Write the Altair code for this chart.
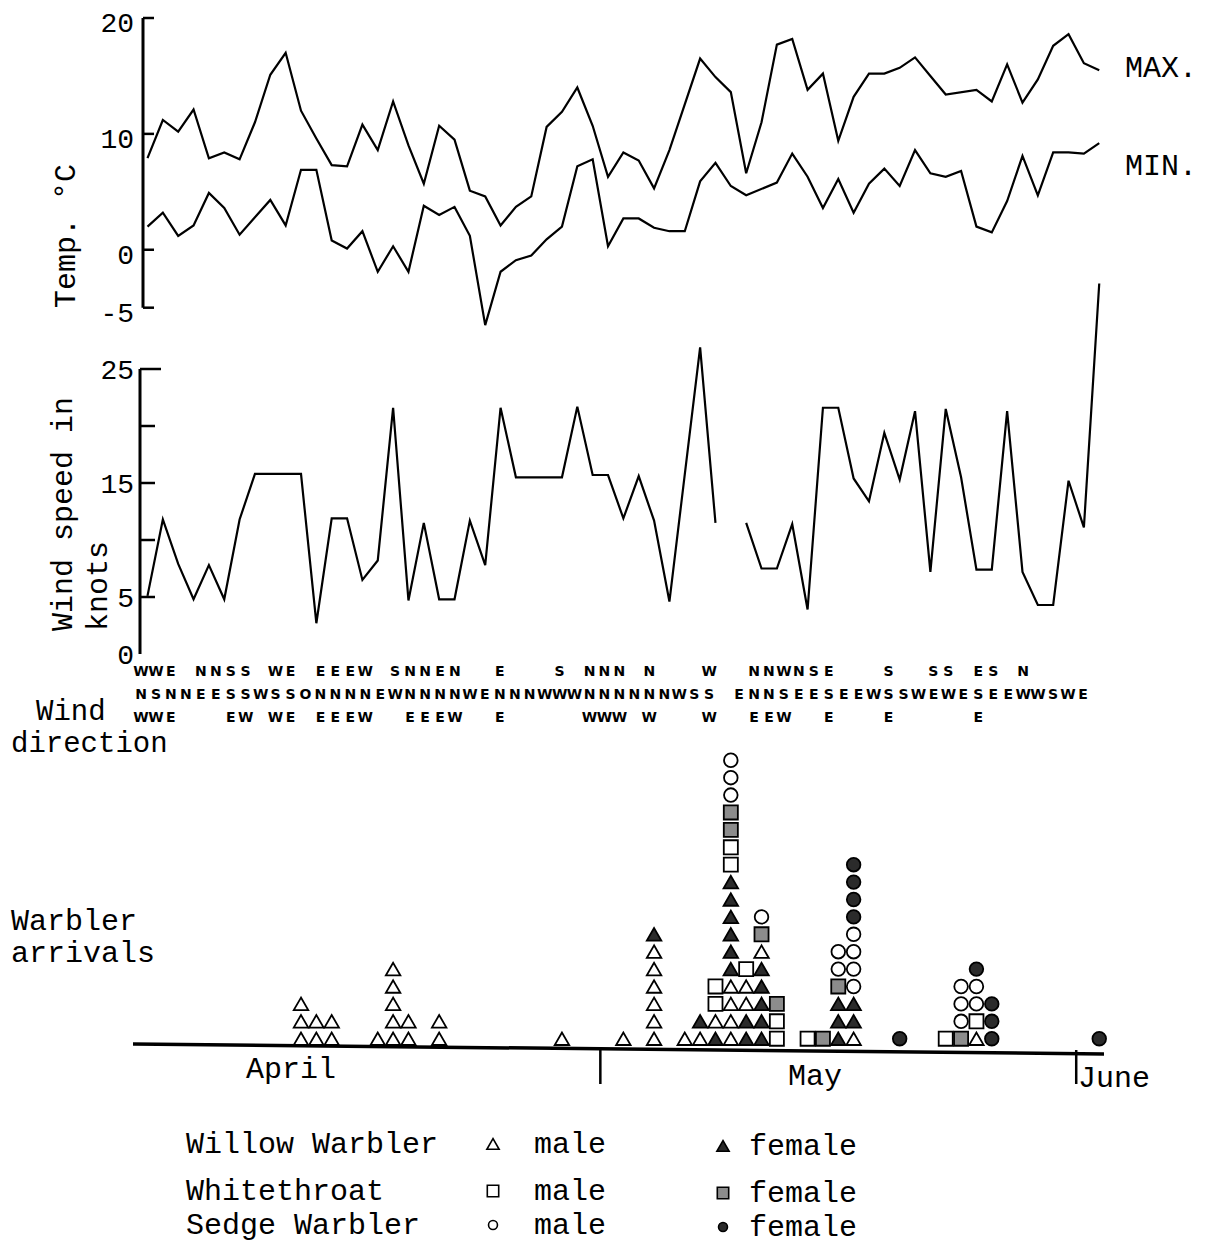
import altair as alt
import pandas as pd

FONT = "Liberation Mono"
LETTER_FONT = "DejaVu Sans"
INK = "black"

# ---------------- data ----------------
day_index = list(range(63))  # day 0 = 1 April ... day 62 = 2 June

temp_max = [7.9, 11.2, 10.2, 12.1, 7.9, 8.4, 7.8, 11.0, 15.1, 17.0,
            12.0, 9.6, 7.3, 7.2, 10.8, 8.6, 12.8, 9.0, 5.7, 10.7,
            9.5, 5.1, 4.6, 2.1, 3.7, 4.6, 10.6, 11.9, 14.0, 10.7,
            6.3, 8.4, 7.7, 5.3, 8.6, None, 16.5, 14.9, 13.6, 6.6,
            11.0, 17.7, 18.2, 13.8, 15.2, 9.4, 13.2, 15.2, 15.2, 15.7,
            16.6, 15.0, 13.4, None, 13.8, 12.8, 16.0, 12.7, 14.7, 17.6,
            18.6, 16.1, 15.5]

temp_min = [2.0, 3.2, 1.2, 2.1, 4.9, 3.6, 1.3, 2.8, 4.3, 2.1,
            6.9, 6.9, 0.8, 0.1, 1.6, -1.9, 0.3, -1.9, 3.8, 3.0,
            3.7, 1.2, -6.5, -1.9, -0.9, -0.5, 0.9, 2.0, 7.2, 7.8,
            0.3, 2.7, 2.7, 1.9, 1.6, 1.6, 5.9, 7.5, 5.5, 4.7,
            None, 5.8, 8.3, 6.3, 3.6, 6.1, 3.2, 5.7, 7.0, 5.5,
            8.6, 6.6, 6.3, 6.8, 2.0, 1.5, 4.2, 8.1, 4.7, 8.4,
            8.4, 8.3, 9.2]

wind_speed = [5.1, 11.8, 7.9, 4.8, 7.8, 4.8, 11.8, 15.8, 15.8, 15.8,
              15.8, 2.7, 11.9, 11.9, 6.5, 8.2, 21.6, 4.7, 11.5, 4.8,
              4.8, 11.7, 7.8, 21.6, 15.5, 15.5, 15.5, 15.5, 21.7, 15.7,
              15.7, 11.9, 15.6, 11.7, 4.6, None, 26.9, 11.5, None, 11.5,
              7.5, 7.5, 11.4, 3.9, 21.6, 21.6, 15.4, 13.4, 19.4, 15.3,
              21.3, 7.2, 21.5, 15.5, 7.4, 7.4, 21.3, 7.2, 4.3, 4.3,
              15.2, 11.1, 32.5]
WIND_GAP_DAY = 38

temp_axis_ends = [-5, 20]
temp_ticks_values = [-5, 0, 10, 20]
temp_label_values = [-5, 0, 10, 20]
wind_axis_ends = [0, 25]
wind_tick_values = [5, 10, 15, 20]
wind_top_tick = [25]
wind_label_values = [0, 5, 15, 25]

wind_dir_row1 = "WWE NNSS WE EEEW SNNEN  E   S NNN N   W  NNWNSE   S  SS ES N"
wind_dir_row2 = "NSNNEESSWSSONNNNEWNNNNWENNNWWWNNNNNNWSS ENNSEESEEWSSWEWESEEWWSWE"
wind_dir_row3 = "WWE   EW WE EEEW  EEEW  E     WWW W   W  EEW  E   E     E"

arrival_days = [10, 11, 12, 15, 16, 17, 19, 27, 31, 33, 35, 36, 37, 38,
                39, 40, 41, 43, 44, 45, 46, 49, 52, 53, 54, 55, 62]
# bottom -> top; T/t Willow Warbler, Q/q Whitethroat, O/o Sedge Warbler (upper = male)
arrival_stacks = ["TTT", "TT", "TT", "T", "TTTTT", "TT", "TT", "T", "T",
                  "TTTTTTt", "T", "Tt", "tTQQ", "TTTTttttttQQqqOOO", "ttTTQ",
                  "tttttTqO", "QQq", "Q", "q", "tttqOO", "TttOOOOoooo", "o",
                  "Q", "qOOO", "TQOOo", "ooo", "o"]

month_boundaries = [29.5, 60.5]
legend_species = ["Willow Warbler", "Whitethroat", "Sedge Warbler"]
legend_keys = ["ww", "wt", "sw"]

# ---------------- frames ----------------
temp_df = pd.DataFrame({
    "day": day_index * 2,
    "value": temp_max + temp_min,
    "series": ["MAX"] * len(day_index) + ["MIN"] * len(day_index),
}).dropna()

wind_df = pd.DataFrame({"day": day_index, "speed": wind_speed})
wind_df["segment"] = (wind_df["day"] > WIND_GAP_DAY).astype(int)
wind_df = wind_df.dropna()

dir_recs = []
for r, s in enumerate([wind_dir_row1, wind_dir_row2, wind_dir_row3], start=1):
    for i, ch in enumerate(s):
        if ch != " ":
            dir_recs.append({"col": i, "row": r, "ch": ch})
dir_df = pd.DataFrame(dir_recs)

SPECIES = {"T": "ww", "t": "ww", "Q": "wt", "q": "wt", "O": "sw", "o": "sw"}
arr_recs = []
for d, stack in zip(arrival_days, arrival_stacks):
    for lvl, c in enumerate(stack):
        sp = SPECIES[c]
        sex = "m" if c.isupper() else "f"
        arr_recs.append({"day": d, "level": lvl, "species": sp, "kind": f"{sp}-{sex}"})
arr_df = pd.DataFrame(arr_recs)

# ---------------- scales ----------------
W = 961
X_SCALE = alt.Scale(domain=[-0.293, 62.31], nice=False, zero=False)
TEMP_SCALE = alt.Scale(domain=[-8.91, 20], nice=False, zero=False)
WIND_SCALE = alt.Scale(domain=[0, 25], nice=False, zero=False)
DIR_X = alt.Scale(domain=[0.134, 64.41], nice=False, zero=False)
DIR_Y = alt.Scale(domain=[0.926, 3.535], nice=False, zero=False, reverse=True)
ARR_Y = alt.Scale(domain=[-0.994, 16.82], nice=False, zero=False)
SHAPE = alt.Scale(domain=["ww", "wt", "sw"], range=["triangle-up", "square", "circle"])
SIZE = alt.Scale(domain=["ww", "wt", "sw"], range=[210, 185, 105])
FILL_DOMAIN = ["ww-m", "ww-f", "wt-m", "wt-f", "sw-m", "sw-f"]
FILL_RANGE = ["white", "#2b2b2b", "white", "#8c8c8c", "white", "#2b2b2b"]
FILL = alt.Scale(domain=FILL_DOMAIN, range=FILL_RANGE)


def note(text, x, y, size=30, align="left", angle=None, font=FONT):
    kw = dict(align=align, baseline="middle", font=font, fontSize=size, color=INK)
    if angle is not None:
        kw["angle"] = angle
    return alt.Chart(pd.DataFrame({"t": [text]})).mark_text(**kw).encode(
        text="t:N", x=alt.value(x), y=alt.value(y))


def y_labels(values, scale, dy):
    df = pd.DataFrame({"v": values, "lab": [str(v) for v in values]})
    return alt.Chart(df).mark_text(align="right", baseline="middle", font=FONT,
                                   fontSize=28, dx=-9, dy=dy, color=INK).encode(
        y=alt.Y("v:Q", scale=scale, axis=None), x=alt.value(0), text="lab:N")


def ticks(values, scale, x0, x1, width=2.5):
    return alt.Chart(pd.DataFrame({"v": values})).mark_rule(color=INK, strokeWidth=width).encode(
        y=alt.Y("v:Q", scale=scale, axis=None), x=alt.value(x0), x2=alt.value(x1))


def axis_line(ends, scale, x):
    return alt.Chart(pd.DataFrame({"lo": [ends[0]], "hi": [ends[1]]})).mark_rule(
        color=INK, strokeWidth=3).encode(
        x=alt.value(x), y=alt.Y("lo:Q", scale=scale, axis=None), y2="hi:Q")


# ---------------- temperature panel ----------------
temp_lines = alt.Chart(temp_df).mark_line(color=INK, strokeWidth=2.2).encode(
    x=alt.X("day:Q", scale=X_SCALE, axis=None),
    y=alt.Y("value:Q", scale=TEMP_SCALE, axis=None),
    detail="series:N")

temp_panel = alt.layer(
    temp_lines,
    axis_line(temp_axis_ends, TEMP_SCALE, 0),
    ticks(temp_ticks_values, TEMP_SCALE, 0, 11),
    y_labels(temp_label_values, TEMP_SCALE, 6),
    note("MAX.", 982, 50),
    note("MIN.", 982, 148),
    note("Temp.  °C", -77, 290, angle=270),
).properties(width=W, height=335)

# ---------------- wind speed panel ----------------
wind_line = alt.Chart(wind_df).mark_line(color=INK, strokeWidth=2.2).encode(
    x=alt.X("day:Q", scale=X_SCALE, axis=None),
    y=alt.Y("speed:Q", scale=WIND_SCALE, axis=None),
    detail="segment:N")

wind_panel = alt.layer(
    wind_line,
    axis_line(wind_axis_ends, WIND_SCALE, -3),
    ticks(wind_tick_values, WIND_SCALE, -3, 12),
    ticks(wind_top_tick, WIND_SCALE, -3, 18),
    y_labels(wind_label_values, WIND_SCALE, 2),
    note("Wind speed in", -80, 262, angle=270),
    note("knots", -45, 262, angle=270),
).properties(width=W, height=285)

# ---------------- wind direction panel ----------------
dir_text = alt.Chart(dir_df).mark_text(font=LETTER_FONT, fontSize=14, fontWeight="bold",
                                       baseline="middle", align="center", color=INK).encode(
    x=alt.X("col:Q", scale=DIR_X, axis=None),
    y=alt.Y("row:Q", scale=DIR_Y, axis=None),
    text="ch:N")

dir_panel = alt.layer(
    dir_text,
    note("Wind", -107, 41, size=29),
    note("direction", -132, 73, size=29),
).properties(width=W, height=60)

# ---------------- arrivals panel ----------------
baseline = alt.Chart(pd.DataFrame({"k": [0]})).mark_rule(color=INK, strokeWidth=3.5).encode(
    x=alt.value(-10), x2=alt.value(W), y=alt.value(298), y2=alt.value(308))

month_ticks = alt.Chart(pd.DataFrame({"d": month_boundaries})).mark_rule(
    color=INK, strokeWidth=2.5).encode(
    x=alt.X("d:Q", scale=X_SCALE, axis=None), y=alt.value(304), y2=alt.value(338))

markers = alt.Chart(arr_df).mark_point(filled=True, stroke=INK, strokeWidth=1.8, opacity=1).encode(
    x=alt.X("day:Q", scale=X_SCALE, axis=None),
    y=alt.Y("level:Q", scale=ARR_Y, axis=None),
    shape=alt.Shape("species:N", scale=SHAPE, legend=None),
    size=alt.Size("species:N", scale=SIZE, legend=None),
    fill=alt.Fill("kind:N", scale=FILL, legend=None))

legend_layers = []
row_y = [398, 445, 479]
leg_sizes = {"ww": 150, "wt": 130, "sw": 80}
leg_shapes = dict(zip(["ww", "wt", "sw"], ["triangle-up", "square", "circle"]))
leg_fill = dict(zip(FILL_DOMAIN, FILL_RANGE))
for name, key, y in zip(legend_species, legend_keys, row_y):
    legend_layers.append(note(name, 43, y))
    legend_layers.append(note("male", 391, y))
    legend_layers.append(note("female", 606, y + 2))
    for sx, sex, yy in [(350, "m", y), (580, "f", y + 2)]:
        legend_layers.append(
            alt.Chart(pd.DataFrame({"k": [key]})).mark_point(
                filled=True, stroke=INK, strokeWidth=1.6, opacity=1,
                shape=leg_shapes[key], size=leg_sizes[key],
                fill=leg_fill[f"{key}-{sex}"]).encode(
                x=alt.value(sx), y=alt.value(yy)))

arr_panel = alt.layer(
    baseline,
    month_ticks,
    markers,
    note("Warbler", -132, 175),
    note("arrivals", -132, 207),
    note("April", 148, 323, align="center"),
    note("May", 672, 330, align="center"),
    note("June", 935, 332),
    *legend_layers,
).properties(width=W, height=310)

chart = alt.vconcat(
    temp_panel, wind_panel, dir_panel, arr_panel, spacing=16, bounds="flush"
).configure_view(stroke=None).properties(
    background="white",
    padding={"left": 3, "top": 2, "right": 5, "bottom": 8},
)

chart.save("out.html", embed_options={"renderer": "svg", "actions": False})
